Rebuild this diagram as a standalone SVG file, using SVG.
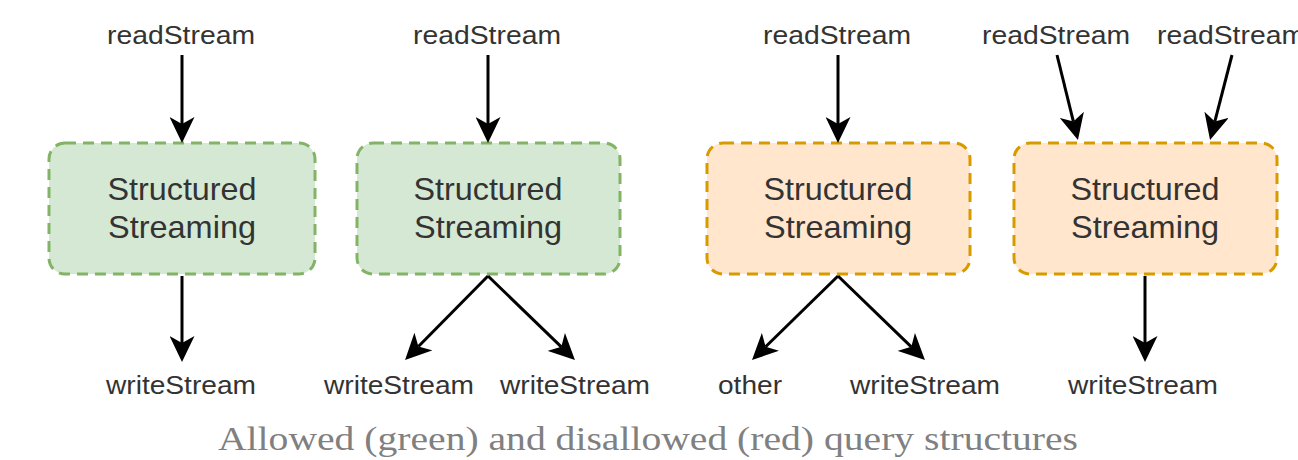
<svg xmlns="http://www.w3.org/2000/svg" width="1298" height="460" viewBox="0 0 1298 460">
<style>
.green{fill:#d5e8d4;stroke:#82b366;stroke-width:3;stroke-dasharray:11 7}
.orange{fill:#ffe6cc;stroke:#d79b00;stroke-width:3;stroke-dasharray:11 7}
.box-text{font-family:'Liberation Sans',Arimo,Arial,Helvetica,sans-serif;font-size:32px;fill:#333333;text-anchor:middle}
.label{font-family:'Liberation Sans',Arimo,Arial,Helvetica,sans-serif;font-size:25px;fill:#333333;text-anchor:middle}
.edge{stroke:#000;stroke-width:3;fill:none;marker-end:url(#arrow)}
.caption{font-family:'Liberation Serif',Tinos,'Times New Roman',serif;font-size:33px;fill:#808080;text-anchor:middle}
</style>
<defs>
<marker id="arrow" viewBox="0 0 26 25" markerWidth="26" markerHeight="25" refX="7" refY="12.5" orient="auto" markerUnits="userSpaceOnUse">
<path d="M0,0 L26,12.5 L0,25 L7,12.5 Z" fill="#000"/>
</marker>
</defs>
<rect width="1298" height="460" fill="#ffffff"/>
<g id="node-ss1">
<rect class="green" x="49" y="143" width="266" height="131" rx="16"/>
<text class="box-text" x="182" y="200" textLength="149" lengthAdjust="spacingAndGlyphs">Structured</text>
<text class="box-text" x="182" y="238" textLength="148" lengthAdjust="spacingAndGlyphs">Streaming</text>
</g>
<g id="node-ss2">
<rect class="green" x="357" y="143" width="263" height="131" rx="16"/>
<text class="box-text" x="488" y="200" textLength="149" lengthAdjust="spacingAndGlyphs">Structured</text>
<text class="box-text" x="488" y="238" textLength="148" lengthAdjust="spacingAndGlyphs">Streaming</text>
</g>
<g id="node-ss3">
<rect class="orange" x="707" y="143" width="263" height="131" rx="16"/>
<text class="box-text" x="838" y="200" textLength="149" lengthAdjust="spacingAndGlyphs">Structured</text>
<text class="box-text" x="838" y="238" textLength="148" lengthAdjust="spacingAndGlyphs">Streaming</text>
</g>
<g id="node-ss4">
<rect class="orange" x="1014" y="143" width="263" height="131" rx="16"/>
<text class="box-text" x="1145" y="200" textLength="149" lengthAdjust="spacingAndGlyphs">Structured</text>
<text class="box-text" x="1145" y="238" textLength="148" lengthAdjust="spacingAndGlyphs">Streaming</text>
</g>
<g id="node-read1"><text class="label" x="181" y="44" textLength="148" lengthAdjust="spacingAndGlyphs">readStream</text></g>
<g id="node-read2"><text class="label" x="487" y="44" textLength="148" lengthAdjust="spacingAndGlyphs">readStream</text></g>
<g id="node-read3"><text class="label" x="837" y="44" textLength="148" lengthAdjust="spacingAndGlyphs">readStream</text></g>
<g id="node-read4"><text class="label" x="1056" y="44" textLength="148" lengthAdjust="spacingAndGlyphs">readStream</text></g>
<g id="node-read5"><text class="label" x="1231" y="44" textLength="148" lengthAdjust="spacingAndGlyphs">readStream</text></g>
<g id="node-write1"><text class="label" x="181" y="394" textLength="150" lengthAdjust="spacingAndGlyphs">writeStream</text></g>
<g id="node-write2"><text class="label" x="399" y="394" textLength="150" lengthAdjust="spacingAndGlyphs">writeStream</text></g>
<g id="node-write3"><text class="label" x="575" y="394" textLength="150" lengthAdjust="spacingAndGlyphs">writeStream</text></g>
<g id="node-other"><text class="label" x="750" y="394" textLength="64" lengthAdjust="spacingAndGlyphs">other</text></g>
<g id="node-write4"><text class="label" x="925" y="394" textLength="150" lengthAdjust="spacingAndGlyphs">writeStream</text></g>
<g id="node-write5"><text class="label" x="1143" y="394" textLength="150" lengthAdjust="spacingAndGlyphs">writeStream</text></g>
<g id="connectors">
<line class="edge" x1="182" y1="55" x2="182" y2="124"/>
<line class="edge" x1="182" y1="276" x2="182" y2="343"/>
<line class="edge" x1="488" y1="55" x2="488" y2="124"/>
<line class="edge" x1="488" y1="276" x2="418.4" y2="346.5"/>
<line class="edge" x1="488" y1="276" x2="561.3" y2="346.8"/>
<line class="edge" x1="838" y1="55" x2="838" y2="124"/>
<line class="edge" x1="838" y1="276" x2="765.6" y2="346.7"/>
<line class="edge" x1="838" y1="276" x2="911.3" y2="346.8"/>
<line class="edge" x1="1057" y1="55" x2="1073.4" y2="121.6"/>
<line class="edge" x1="1232" y1="55" x2="1214.8" y2="121.6"/>
<line class="edge" x1="1145" y1="276" x2="1145" y2="343"/>
</g>
<text class="caption" x="648" y="450" textLength="860" lengthAdjust="spacingAndGlyphs">Allowed (green) and disallowed (red) query structures</text>
</svg>
